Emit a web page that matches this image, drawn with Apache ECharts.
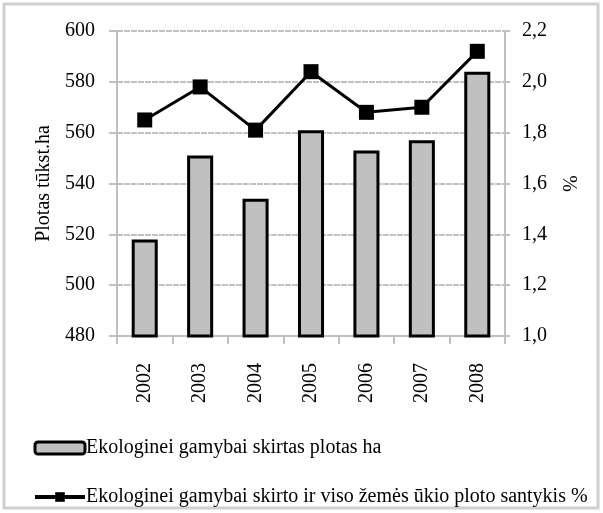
<!DOCTYPE html>
<html>
<head>
<meta charset="utf-8">
<script src="https://cdn.jsdelivr.net/npm/echarts@6/dist/echarts.min.js"></script>
<style>
html, body { margin: 0; padding: 0; background: #fff; }
#chart { width: 603px; height: 513px; }
</style>
</head>
<body>
<div id="chart"></div>
<script>
const years = ['2002', '2003', '2004', '2005', '2006', '2007', '2008']
const plotas = [518, 551, 534, 561, 553, 557, 584]
const santykis = [1.85, 1.98, 1.81, 2.04, 1.88, 1.90, 2.12]

const font = 'Liberation Serif'
const gridColor = '#c0c0c0'

const chart = echarts.init(document.getElementById('chart'))
chart.setOption({
  animation: false,
  textStyle: { fontFamily: font, color: '#000' },
  graphic: [{
    type: 'rect',
    shape: { x: 4, y: 4, width: 594, height: 504 },
    style: { fill: 'none', stroke: '#d0d0d0', lineWidth: 3 }
  }],
  grid: { left: 117, right: 98, top: 31, bottom: 177 },
  legend: {
    orient: 'vertical',
    left: 28,
    top: 433,
    itemGap: 29,
    itemWidth: 50,
    itemHeight: 12,
    textStyle: { fontFamily: font, fontSize: 20, color: '#000', padding: [0, 0, 0, -4] },
    data: [
      {
        name: 'Ekologinei gamybai skirtas plotas ha',
        icon: 'roundRect',
        itemStyle: { color: '#c0c0c0', borderColor: '#000', borderWidth: 3 }
      },
      {
        name: 'Ekologinei gamybai skirto ir viso žemės ūkio ploto santykis %',
        lineStyle: { width: 4, color: '#000' }
      }
    ]
  },
  xAxis: {
    type: 'category',
    data: years,
    axisLine: { lineStyle: { color: gridColor, width: 2 } },
    axisTick: { show: true, length: 8, lineStyle: { color: gridColor, width: 2 } },
    axisLabel: { rotate: 90, fontFamily: font, fontSize: 20, color: '#000', margin: 27 }
  },
  yAxis: [
    {
      type: 'value',
      min: 480,
      max: 600,
      interval: 20,
      name: 'Plotas tūkst.ha',
      nameLocation: 'middle',
      nameGap: 62,
      nameTextStyle: { fontFamily: font, fontSize: 20, color: '#000' },
      axisLine: { show: true, lineStyle: { color: gridColor, width: 2 } },
      axisTick: { show: true, length: 8, lineStyle: { color: gridColor, width: 2 } },
      axisLabel: { fontFamily: font, fontSize: 20, color: '#000', margin: 22 },
      splitLine: { lineStyle: { color: gridColor, width: 2, type: [6, 1] } }
    },
    {
      type: 'value',
      min: 1.0,
      max: 2.2,
      interval: 0.2,
      name: '%',
      nameLocation: 'middle',
      nameGap: 50,
      nameRotate: -90,
      nameTextStyle: { fontFamily: font, fontSize: 20, color: '#000' },
      axisLine: { show: true, lineStyle: { color: gridColor, width: 2 } },
      axisTick: { show: true, length: 5, lineStyle: { color: gridColor, width: 2 } },
      axisLabel: {
        fontFamily: font, fontSize: 20, color: '#000', margin: 17,
        formatter: v => v.toFixed(1).replace('.', ',')
      },
      splitLine: { show: false }
    }
  ],
  series: [
    {
      name: 'Ekologinei gamybai skirtas plotas ha',
      type: 'bar',
      yAxisIndex: 0,
      data: plotas,
      barWidth: '47%',
      itemStyle: { color: '#c0c0c0', borderColor: '#000', borderWidth: 3 }
    },
    {
      name: 'Ekologinei gamybai skirto ir viso žemės ūkio ploto santykis %',
      type: 'line',
      yAxisIndex: 1,
      data: santykis,
      symbol: 'rect',
      symbolSize: 15,
      lineStyle: { color: '#000', width: 3 },
      itemStyle: { color: '#000' }
    }
  ]
})
</script>
</body>
</html>
